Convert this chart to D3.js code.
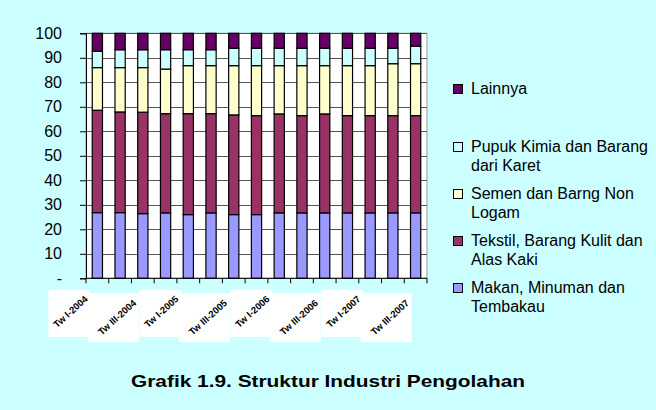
<!DOCTYPE html>
<html>
<head>
<meta charset="utf-8">
<script src="https://cdn.jsdelivr.net/npm/d3@7"></script>
<style>
  body { margin: 0; background: #CCFFFF; }
  svg { display: block; font-family: Arial, "Liberation Sans", sans-serif; }
</style>
</head>
<body>
<div id="chart"></div>
<script>
// categories (quarters Tw I-2004 .. Tw III-2007)
const quarters = ["Tw I-2004", "Tw II-2004", "Tw III-2004", "Tw IV-2004",
  "Tw I-2005", "Tw II-2005", "Tw III-2005", "Tw IV-2005",
  "Tw I-2006", "Tw II-2006", "Tw III-2006", "Tw IV-2006",
  "Tw I-2007", "Tw II-2007", "Tw III-2007"];

// shares per sector (%), bottom to top
const makanan = [26.8, 26.8, 26.4, 26.7, 26.0, 26.7, 26.0, 26.0, 26.7, 26.7, 26.7, 26.7, 26.7, 26.7, 26.7];
const tekstil = [41.8, 41.1, 41.4, 40.5, 41.2, 40.5, 40.7, 40.4, 40.4, 39.7, 40.4, 39.7, 39.7, 39.7, 39.7];
const semen   = [17.4, 18.1, 18.2, 18.2, 19.6, 19.6, 20.1, 20.4, 19.7, 20.4, 19.7, 20.4, 20.4, 21.2, 21.2];
const pupuk   = [6.7, 7.3, 7.3, 7.9, 6.5, 6.5, 7.1, 7.1, 7.1, 7.1, 7.1, 7.1, 7.1, 6.3, 7.1];
const lainnya = [7.3, 6.7, 6.7, 6.7, 6.7, 6.7, 6.1, 6.1, 6.1, 6.1, 6.1, 6.1, 6.1, 6.1, 5.3];

const seriesNames = ["Makan, Minuman dan Tembakau", "Tekstil, Barang Kulit dan Alas Kaki",
  "Semen dan Barng Non Logam", "Pupuk Kimia dan Barang dari Karet", "Lainnya"];
const yTicks = [0, 10, 20, 30, 40, 50, 60, 70, 80, 90, 100];

const colors = ["#9999FF", "#993366", "#FFFFCC", "#CCFFFF", "#660066"];
// legend lines (top to bottom), wrapped like the original
const legendLines = [
  ["Lainnya"],
  ["Pupuk Kimia dan Barang", "dari Karet"],
  ["Semen dan Barng Non", "Logam"],
  ["Tekstil, Barang Kulit dan", "Alas Kaki"],
  ["Makan, Minuman dan", "Tembakau"]
];
const legendY = [88, 146, 193, 240, 287];

const width = 656, height = 410;
const plot = {left: 86, right: 427, top: 33.3, bottom: 278.3};

const svg = d3.select("#chart").append("svg")
  .attr("width", width)
  .attr("height", height);

svg.append("rect").attr("width", width).attr("height", height).attr("fill", "#CCFFFF");

// table for the stack
const table = quarters.map((q, i) => ({
  q: q, s0: makanan[i], s1: tekstil[i], s2: semen[i], s3: pupuk[i], s4: lainnya[i]
}));
const stack = d3.stack().keys(["s0", "s1", "s2", "s3", "s4"])(table);

const x = d3.scaleBand()
  .domain(quarters)
  .range([plot.left, plot.right])
  .paddingInner(0.55)
  .paddingOuter(0.275);

const y = d3.scaleLinear()
  .domain([0, 100])
  .range([plot.bottom, plot.top]);

// plot area
svg.append("rect")
  .attr("x", plot.left).attr("y", plot.top)
  .attr("width", plot.right - plot.left)
  .attr("height", plot.bottom - plot.top)
  .attr("fill", "white")
  .attr("stroke", "#999")
  .attr("stroke-width", 1);

// gridlines
svg.append("g")
  .selectAll("line")
  .data(yTicks.slice(1))
  .join("line")
  .attr("x1", plot.left).attr("x2", plot.right)
  .attr("y1", d => Math.round(y(d)) + 0.5)
  .attr("y2", d => Math.round(y(d)) + 0.5)
  .attr("stroke", "#555")
  .attr("stroke-width", 1);

// bars
svg.append("g")
  .selectAll("g")
  .data(stack)
  .join("g")
  .attr("fill", (d, i) => colors[i])
  .selectAll("rect")
  .data(d => d)
  .join("rect")
  .attr("x", d => x(d.data.q))
  .attr("width", x.bandwidth())
  .attr("y", d => y(d[1]))
  .attr("height", d => y(d[0]) - y(d[1]))
  .attr("stroke", "#000")
  .attr("stroke-width", 1.2);

// y axis
const yAxis = svg.append("g")
  .attr("transform", "translate(" + plot.left + ",0)")
  .call(d3.axisLeft(y).tickValues(yTicks).tickSize(6).tickPadding(18)
    .tickFormat(d => d === 0 ? "-" : d));
yAxis.select(".domain").attr("stroke", "#000");
yAxis.selectAll(".tick line").attr("stroke", "#000");
yAxis.selectAll("text")
  .attr("font-size", "16px")
  .attr("font-family", "Arial, 'Liberation Sans', sans-serif")
  .attr("fill", "#000");

// x axis line and ticks at category boundaries
const xg = svg.append("g");
xg.append("line")
  .attr("x1", plot.left).attr("x2", plot.right)
  .attr("y1", plot.bottom).attr("y2", plot.bottom)
  .attr("stroke", "#000");
xg.selectAll(".xt")
  .data(quarters.map((q, i) => plot.left + i * x.step()).concat([plot.right]))
  .join("line")
  .attr("class", "xt")
  .attr("x1", d => d).attr("x2", d => d)
  .attr("y1", plot.bottom).attr("y2", plot.bottom + 5)
  .attr("stroke", "#000");

// x labels, every other quarter, with white boxes behind them
const labelled = quarters.filter((q, i) => i % 2 === 0);
const lab = svg.append("g");
lab.selectAll("rect")
  .data(labelled)
  .join("rect")
  .attr("x", (d, i) => x(d) + x.bandwidth() / 2 - (i % 2 === 0 ? 49 : 55))
  .attr("y", (d, i) => i % 2 === 0 ? 290 : 293)
  .attr("width", (d, i) => i % 2 === 0 ? 42 : 51)
  .attr("height", (d, i) => i % 2 === 0 ? 47 : 49)
  .attr("fill", "white");
lab.selectAll("text")
  .data(labelled)
  .join("text")
  .attr("transform", (d, i) => "translate(" + (x(d) + x.bandwidth() / 2 - (i % 2 === 0 ? 9 : 6)) + "," + (i % 2 === 0 ? 300 : 304) + ") rotate(-42)")
  .attr("text-anchor", "end")
  .attr("font-size", "9.5px")
  .attr("font-weight", "bold")
  .attr("fill", "#000")
  .text(d => d);

// legend
const legend = svg.append("g");
const legendColors = colors.slice().reverse();
legendLines.forEach(function(lines, i) {
  legend.append("rect")
    .attr("x", 453.5).attr("y", legendY[i] - 3.5)
    .attr("width", 9).attr("height", 9)
    .attr("fill", legendColors[i])
    .attr("stroke", "#000");
  const t = legend.append("text")
    .attr("x", 471).attr("y", legendY[i] + 5.5)
    .attr("font-size", "16px")
    .attr("fill", "#000");
  lines.forEach(function(line, j) {
    t.append("tspan").attr("x", 471).attr("dy", j === 0 ? 0 : 19).text(line);
  });
});

// title
svg.append("text")
  .attr("x", 131).attr("y", 387)
  .attr("font-size", "17px")
  .attr("font-weight", "bold")
  .attr("fill", "#000")
  .attr("textLength", 394)
  .attr("lengthAdjust", "spacingAndGlyphs")
  .text("Grafik 1.9. Struktur Industri Pengolahan");
</script>
</body>
</html>
